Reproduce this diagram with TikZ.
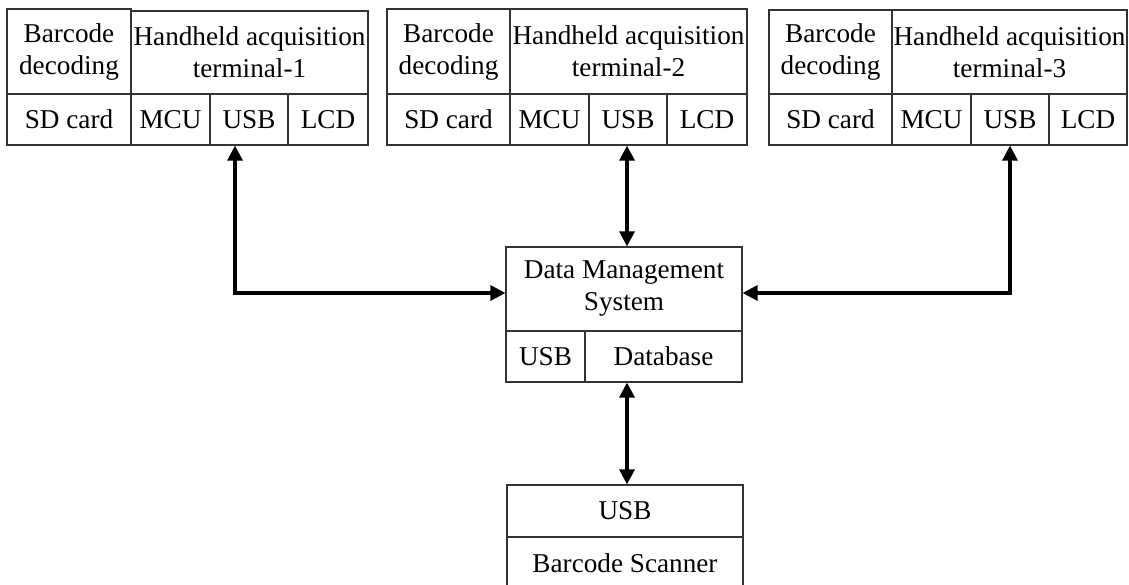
\documentclass[tikz,border=0pt]{standalone}
\usepackage{fontspec}
\setmainfont{Liberation Serif}
\usetikzlibrary{arrows.meta,calc}
\newcommand{\mycell}[6]{\node[cell,minimum width={#4-#2},minimum height={#5-#3}] (#1) at ({(#2+#4)/2},{(#3+#5)/2}) {#6};}
\begin{document}
\begin{tikzpicture}[x=1pt,y=-1pt,
  cell/.style={draw=black!80,line width=1.2pt,inner sep=0pt,align=center,
    font=\fontsize{27.2}{32}\selectfont},
  link/.style={line width=3.2pt,{Triangle[length=15pt,width=15pt]}-{Triangle[length=15pt,width=15pt]}}]
\useasboundingbox[fill=white] (0,0) rectangle (1129,584);
\clip (0,0) rectangle (1129,584);
% terminal 1
\mycell{bcA}{7}{9}{131}{94}{Barcode\\decoding}
\mycell{hhA}{131}{11}{368}{94}{Handheld acquisition\\terminal-1}
\mycell{sdA}{7}{94}{131}{145}{SD card}
\mycell{mcuA}{131}{94}{210}{145}{MCU}
\mycell{usbA}{210}{94}{288}{145}{USB}
\mycell{lcdA}{288}{94}{368}{145}{LCD}
% terminal 2
\mycell{bcB}{387}{9}{510}{94}{Barcode\\decoding}
\mycell{hhB}{510}{9}{747}{94}{Handheld acquisition\\terminal-2}
\mycell{sdB}{387}{94}{510}{145}{SD card}
\mycell{mcuB}{510}{94}{589}{145}{MCU}
\mycell{usbB}{589}{94}{667}{145}{USB}
\mycell{lcdB}{667}{94}{747}{145}{LCD}
% terminal 3
\mycell{bcC}{769}{10}{892}{94}{Barcode\\decoding}
\mycell{hhC}{892}{10}{1127}{94}{Handheld acquisition\\terminal-3}
\mycell{sdC}{769}{94}{892}{145}{SD card}
\mycell{mcuC}{892}{94}{971}{145}{MCU}
\mycell{usbC}{971}{94}{1049}{145}{USB}
\mycell{lcdC}{1049}{94}{1127}{145}{LCD}
% data management system
\mycell{dms}{506}{247}{742}{331}{Data Management\\System}
\mycell{dmsusb}{506}{331}{585}{382}{USB}
\mycell{db}{585}{331}{742}{382}{Database}
% barcode scanner
\mycell{scusb}{507}{485}{743}{537}{USB}
\mycell{scan}{507}{537}{743}{590}{Barcode Scanner}
% connectors
\coordinate (jA) at (235,293);
\coordinate (jC) at (1010,293);
\coordinate (jB) at (627,0);
\draw[link] (jA |- usbA.south) -- (jA) -- (dms.west |- jA);
\draw[link] (jC |- usbC.south) -- (jC) -- (dms.east |- jC);
\draw[link] (jB |- usbB.south) -- (jB |- dms.north);
\draw[link] (jB |- db.south) -- (jB |- scusb.north);
\end{tikzpicture}
\end{document}
